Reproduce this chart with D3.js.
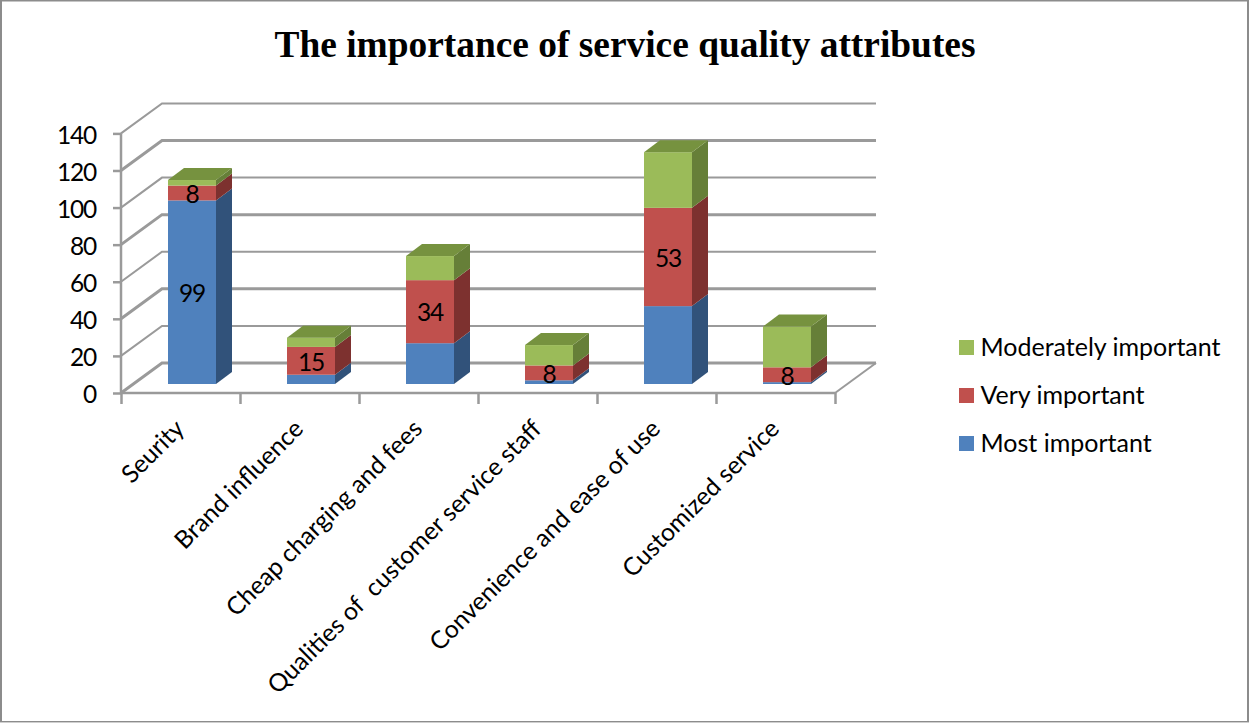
<!DOCTYPE html>
<html><head><meta charset="utf-8">
<script src="https://cdn.jsdelivr.net/npm/d3@7/dist/d3.min.js"></script>
<style>html,body{margin:0;padding:0;background:#fff;overflow:hidden}svg{display:block}text{font-family:Lato,"Noto Sans",sans-serif;fill:#000}</style>
</head><body><svg id="c" width="1249" height="723"></svg>
<script>
const categories = ["Seurity","Brand influence","Cheap charging and fees","Qualities of  customer service staff","Convenience and ease of use","Customized service"];
const mostImportant = [99,5,22,2,42,1];
const veryImportant = [8,15,34,8,53,8];
const moderatelyImportant = [3,5,13,11,30,22];
const yTicks = [0,20,40,60,80,100,120,140];
const seriesNames = ["Most important","Very important","Moderately important"];
const legendOrder = ["Moderately important","Very important","Most important"];
const colors = {"Most important":"#4f81bd","Very important":"#c0504d","Moderately important":"#9bbb59"};
const sideColors = {"Most important":"#31527a","Very important":"#7d312f","Moderately important":"#667f38"};
const topColors = {"Most important":"#3f6797","Very important":"#9a403d","Moderately important":"#76923f"};
const labelled = {"Most important":[true,false,false,false,false,false],"Very important":[true,true,true,true,true,true],"Moderately important":[false,false,false,false,false,false]};

const svg = d3.select("#c");
const W=1249,H=723;
const grid="#9a9a9a";
// frame
svg.append("rect").attr("x",1).attr("y",0.5).attr("width",W-2).attr("height",H-1.5).attr("fill","#fff").attr("stroke","#8c8c8c").attr("stroke-width",2);
svg.append("line").attr("x1",0).attr("x2",W).attr("y1",722.5).attr("y2",722.5).attr("stroke","#cfcfcf");

svg.append("text").attr("x",625).attr("y",56.5).attr("text-anchor","middle")
  .style("font-family","'Liberation Serif',serif").style("font-weight","bold").style("font-size","37.4px").text("The importance of service quality attributes");

const x0=121,x1=835,yBase=393,yTop=133.4;
const depthX=41,depthY=-30;
const y=d3.scaleLinear().domain([0,140]).range([yBase,yTop]);
const xi=d3.scaleLinear().domain([0,categories.length]).range([x0,x1]);

// walls
const gW=svg.append("g").attr("fill","none").attr("stroke",grid);
yTicks.forEach((t,i)=>{
  const sw = i%2===0 ? 3 : 2;
  const yy=y(t);
  gW.append("path").attr("stroke-width",sw)
    .attr("d",`M${x0},${yy}L${x0+depthX},${yy+depthY}L${x1+depthX},${yy+depthY}`);
});
gW.append("path").attr("stroke-width",2).attr("d",`M${x1},${yBase}L${x1+depthX},${yBase+depthY}`);

// axes
const yAxis=d3.axisLeft(y).tickValues(yTicks).tickSize(8).tickFormat(d3.format("d"));
const gy=svg.append("g").attr("transform",`translate(${x0},0)`).call(yAxis);
gy.selectAll("path,line").attr("stroke",grid).attr("stroke-width",2.5);
gy.select(".domain").attr("d",`M0,${yTop}V${yBase}`);
gy.selectAll("text").attr("x",-25).attr("dy","0.4em").style("font-size","24.5px").style("letter-spacing","-1.2px").style("font-family","Lato");
const xAxis=d3.axisBottom(xi).tickValues(d3.range(categories.length+1)).tickSize(11).tickFormat("");
const gx=svg.append("g").attr("transform",`translate(0,${yBase})`).call(xAxis);
gx.selectAll("path,line").attr("stroke",grid).attr("stroke-width",2.5);
gx.select(".domain").attr("d",`M${x0},0H${x1}`);

// stacked bars
const rows=categories.map((c,i)=>({cat:c,"Most important":mostImportant[i],"Very important":veryImportant[i],"Moderately important":moderatelyImportant[i]}));
const stack=d3.stack().keys(seriesNames)(rows);
const planeX=11.5,planeY=-9, sideX=16, sideY=-12;
const bw=48;
const barX=c=>xi(categories.indexOf(c))+119/2+planeX-bw/2;
const Y=v=>y(v)+planeY;
const gB=svg.append("g");
stack.forEach(s=>{
  s.forEach(d=>{
    const c=d.data.cat,l=barX(c),r=l+bw,y0=Y(d[0]),y1=Y(d[1]);
    gB.append("path").attr("fill",sideColors[s.key]).attr("d",`M${r},${y0}L${r+sideX},${y0+sideY}L${r+sideX},${y1+sideY}L${r},${y1}Z`);
    gB.append("rect").attr("x",l).attr("y",y1).attr("width",bw).attr("height",y0-y1).attr("fill",colors[s.key]);
  });
});
stack[2].forEach(d=>{
  const l=barX(d.data.cat),r=l+bw,t=Y(d[1]);
  gB.append("path").attr("fill",topColors["Moderately important"]).attr("d",`M${l},${t}L${r},${t}L${r+sideX},${t+sideY}L${l+sideX},${t+sideY}Z`);
});
// data labels
stack.forEach(s=>s.forEach((d,i)=>{
  if(!labelled[s.key][i])return;
  svg.append("text").attr("x",barX(d.data.cat)+bw/2).attr("y",(Y(d[0])+Y(d[1]))/2).attr("dy","0.4em")
    .attr("text-anchor","middle").style("font-size","24.5px").style("letter-spacing","-1.2px").text(d[1]-d[0]);
}));
// category labels
categories.forEach((c,i)=>{
  const px=xi(i)+119/2-1, py=yBase+31;
  svg.append("text").attr("transform",`translate(${px},${py}) rotate(-45)`).attr("text-anchor","end").attr("dy","0.36em")
    .attr("xml:space","preserve").style("white-space","pre").style("font-size","24.7px").text(c);
});
// legend
legendOrder.forEach((n,i)=>{
  const ly=340+48*i;
  svg.append("rect").attr("x",959).attr("y",ly).attr("width",15).attr("height",15).attr("fill",colors[n]);
  svg.append("text").attr("x",980.5).attr("y",ly+6.5).attr("dy","0.36em").style("font-size","25px").text(n);
});
</script></body></html>
